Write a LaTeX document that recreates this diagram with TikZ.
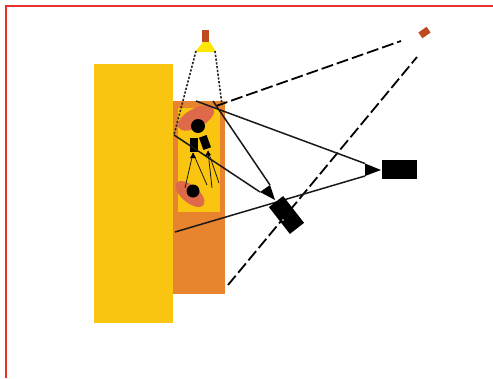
\documentclass[tikz,border=0pt]{standalone}
\usepackage{xcolor}
\usetikzlibrary{shapes.geometric,arrows.meta,calc}
\definecolor{wallyellow}{HTML}{F9C510}
\definecolor{wallorange}{HTML}{E8832E}
\definecolor{blobred}{HTML}{DE6A4A}
\definecolor{lampbrown}{HTML}{C04A20}
\definecolor{borderred}{HTML}{E8302C}

\begin{document}
\begin{tikzpicture}[
  x=1pt, y=-1pt,
  panel/.style={rectangle, inner sep=0pt, anchor=north west},
  blob/.style={ellipse, fill=blobred, inner sep=0pt},
  head/.style={circle, fill=black, inner sep=0pt, minimum size=14pt},
  camera/.style={rectangle, fill=black, inner sep=0pt},
  ray/.style={draw=black!90, line width=1.5pt},
  thinray/.style={draw=black!90, line width=0.8pt},
  dashray/.style={draw=black, line width=1.8pt, dash pattern=on 12pt off 4pt},
  dotray/.style={draw=black!85, line width=1.6pt, dash pattern=on 2.2pt off 1.6pt}
]
\useasboundingbox (0,0) rectangle (493,378);

% --- Marco ---
\fill[borderred] (5,5) rectangle (6.5,378);
\fill[borderred] (5,5) rectangle (493,6.5);

% --- Paneles ---
\node[panel, fill=wallyellow, minimum width=79pt, minimum height=259pt] (wall) at (94,64) {};
\node[panel, fill=wallorange, minimum width=52pt, minimum height=193pt] (board) at (173,101) {};
\node[panel, fill=wallyellow, minimum width=42pt, minimum height=104pt] (inner) at (178,108) {};

% --- Figuras ---
\node[blob, minimum width=40pt, minimum height=19pt, rotate=28] (blobtop) at (196,118) {};
\node[blob, minimum width=35pt, minimum height=17pt, rotate=-40] (blobbot) at (190,194) {};
\node[head] (headtop) at (198,126) {};
\node[head, minimum size=13pt] (headbot) at (193,191) {};
\node[camera, minimum width=8pt, minimum height=14pt] (camleft) at (193.5,144.5) {};
\node[camera, minimum width=8pt, minimum height=13pt, rotate=20] (camright) at (205,142.5) {};

% --- Lampara ---
\node[camera, fill=lampbrown, minimum width=7pt, minimum height=12pt] (lamp) at (205.5,35.5) {};
\fill[yellow!90!orange] (203,42) -- (210,42) -- (216,52) -- (195,52) -- cycle;
\node[camera, fill=lampbrown, minimum width=10pt, minimum height=7pt, rotate=35] (lampfar) at (424.5,32.5) {};

% --- Puntos libres ---
\coordinate (lampleft) at (196,51);
\coordinate (lampright) at (215,51);
\coordinate (hitleft) at (174,135);
\coordinate (hitright) at (222,105);
\coordinate (hittop) at (196,101);
\coordinate (hitmid) at (213,101);
\coordinate (hitlow) at (175,232);
\coordinate (dashstart) at (216,106);
\coordinate (dashend) at (401,41);
\coordinate (diagstart) at (228,285);
\coordinate (diagend) at (417,57);
\coordinate (farup) at (365,163.5);
\coordinate (fardown) at (365,176);
\coordinate (fartip) at (381,170);
\coordinate (nearup) at (270,185);
\coordinate (neardown) at (260,192);
\coordinate (neartip) at (275,200);
\coordinate (tipleft) at (193,153);
\coordinate (tipright) at (208,151);
\coordinate (endone) at (185,188);
\coordinate (endtwo) at (207,185);
\coordinate (endthree) at (212,188);
\coordinate (endfour) at (219,183);

% --- Rayos ---
\draw[dotray] (lampleft) -- (hitleft);
\draw[dotray] (lampright) -- (hitright);
\draw[dashray] (dashstart) -- (dashend);
\draw[dashray] (diagstart) -- (diagend);
\draw[ray] (hittop) -- (farup);
\draw[ray] (hitlow) -- (fardown);
\draw[ray] (hitmid) -- (nearup);
\draw[ray] (hitleft) -- (neardown);
\fill[black] (farup) -- (fartip) -- (fardown) -- cycle;
\fill[black] (nearup) -- (neartip) -- (neardown) -- cycle;

% --- Rayos chicos ---
\draw[thinray] (tipleft) -- (endone);
\draw[thinray] (tipleft) -- (endtwo);
\draw[thinray] (tipright) -- (endthree);
\draw[thinray] (tipright) -- (endfour);
\fill[black] (tipleft) -- ++(-3,5) -- ++(6,0) -- cycle;
\fill[black] (tipright) -- ++(-3,5) -- ++(6,-1) -- cycle;

% --- Camaras ---
\node[camera, minimum width=35pt, minimum height=19pt] (camfar) at (399.5,169.5) {};
\node[camera, minimum width=18pt, minimum height=34pt, rotate=38] (camnear) at (286.5,215) {};
\node[circle, fill=white, inner sep=0pt, minimum size=1.6pt] (camdot) at (283,220) {};

\end{tikzpicture}
\end{document}
